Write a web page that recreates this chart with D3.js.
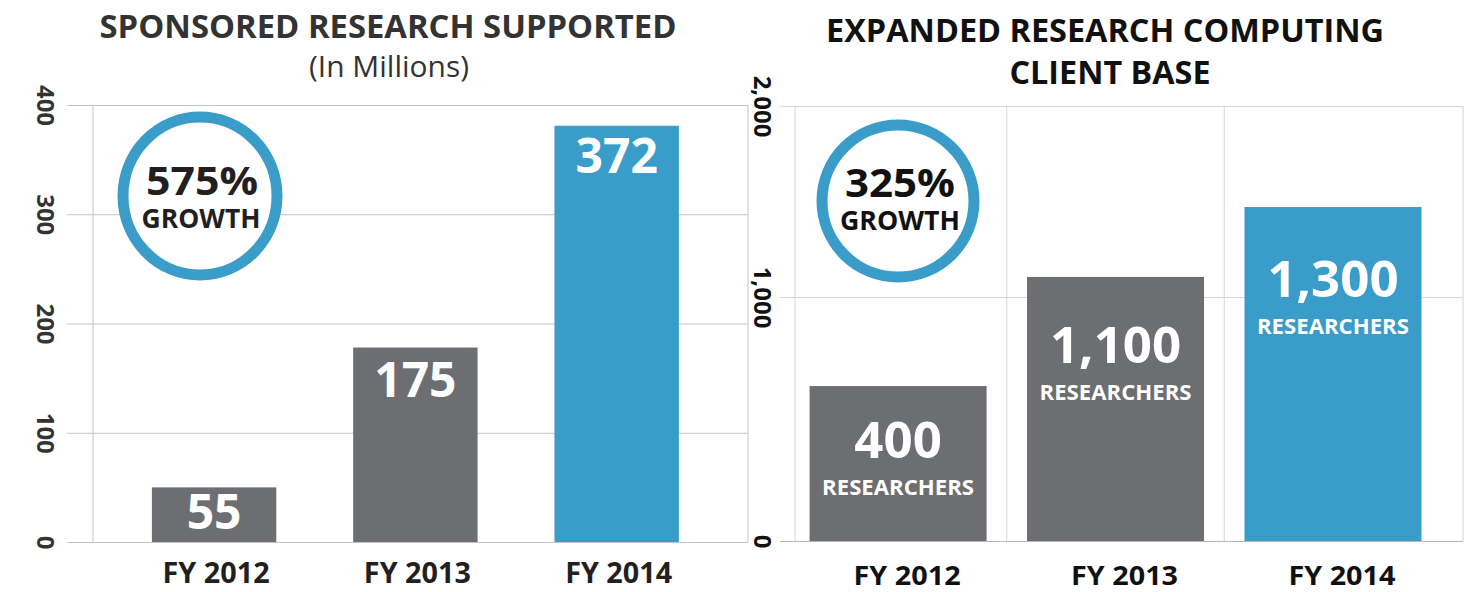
<!DOCTYPE html>
<html>
<head>
<meta charset="utf-8">
<script src="https://cdn.jsdelivr.net/npm/d3@7"></script>
<style>
  body { margin: 0; background: #fff; }
  text { font-family: "Open Sans", "Noto Sans", sans-serif; }
</style>
</head>
<body>
<div id="chart-area"></div>
<script>
// data
let years = ["FY 2012", "FY 2013", "FY 2014"];
// left chart: sponsored research ($ millions)
let fundingLabels = [55, 175, 372];
let fundingBars = [50, 178, 381];      // heights as drawn
let fundingTicks = [0, 100, 200, 300, 400];
// right chart: research computing clients
let researcherLabels = ["400", "1,100", "1,300"];
let researcherBars = [635, 1105, 1471]; // heights as drawn on the (uneven) axis
let researcherTicks = [0, 1000, 2000];

let gray = "#6d6e71";
let blue = "#3a9cc8";

let svg = d3.select("#chart-area")
    .append("svg")
    .attr("width", 1469)
    .attr("height", 592);

// stretch a text to a given width (the original face is wider than Open Sans)
function fit(sel, w){
    sel.attr("textLength", w).attr("lengthAdjust", "spacingAndGlyphs");
}

//---------------- left chart ----------------
let yL = d3.scaleLinear().domain([0, 400]).range([542, 105]);
let xL = d3.scaleBand()
    .domain(years)
    .range([93, 748])
    .paddingInner(0.382)
    .paddingOuter(0.318)
    .align(0.46);

let leftAxis = svg.append("g")
    .attr("transform", "translate(67,0)")
    .call(d3.axisLeft(yL).tickValues(fundingTicks).tickSize(-(748 - 67)));
leftAxis.select(".domain").remove();
leftAxis.selectAll("line").attr("stroke", "#c4c4c4");
leftAxis.selectAll("text")
    .attr("x", 0).attr("dy", null)
    .attr("transform", "translate(-21,0) rotate(90)")
    .attr("text-anchor", "middle")
    .attr("dominant-baseline", "central")
    .attr("font-size", "24px")
    .attr("font-weight", 700)
    .attr("fill", "#333")
    .style("font-family", "'Open Sans', sans-serif");

// frame verticals
[93, 748].forEach(function(x){
    svg.append("line")
        .attr("x1", x).attr("x2", x)
        .attr("y1", yL(400)).attr("y2", yL(0))
        .attr("stroke", "#c4c4c4");
});

svg.selectAll(".barL")
    .data(years)
    .enter()
    .append("rect")
        .attr("class", "barL")
        .attr("x", function(d){ return xL(d); })
        .attr("width", xL.bandwidth())
        .attr("y", function(d, i){ return yL(fundingBars[i]); })
        .attr("height", function(d, i){ return yL(0) - yL(fundingBars[i]); })
        .attr("fill", function(d, i){ return i == 2 ? blue : gray; });

let dyL = [42, 49, 47];
svg.selectAll(".valL")
    .data(years)
    .enter()
    .append("text")
        .attr("x", function(d){ return xL(d) + xL.bandwidth() / 2; })
        .attr("y", function(d, i){ return yL(fundingBars[i]) + dyL[i]; })
        .attr("text-anchor", "middle")
        .attr("font-size", "48px")
        .attr("font-weight", 700)
        .attr("fill", "#fff")
        .text(function(d, i){ return fundingLabels[i]; });

svg.selectAll(".catL")
    .data(years)
    .enter()
    .append("text")
        .attr("x", function(d){ return xL(d) + xL.bandwidth() / 2 + 2; })
        .attr("y", 583)
        .attr("text-anchor", "middle")
        .attr("font-size", "28px")
        .attr("font-weight", 700)
        .attr("fill", "#231f20")
        .text(function(d){ return d; })
        .call(fit, 107);

svg.append("text")
    .attr("x", 388).attr("y", 38)
    .attr("text-anchor", "middle")
    .attr("font-size", "32px")
    .attr("font-weight", 700)
    .attr("fill", "#333")
    .text("SPONSORED RESEARCH SUPPORTED")
    .call(fit, 577);
svg.append("text")
    .attr("x", 389).attr("y", 77)
    .attr("text-anchor", "middle")
    .attr("font-size", "29px")
    .attr("fill", "#333")
    .text("(In Millions)")
    .call(fit, 160);

svg.append("ellipse")
    .attr("cx", 200).attr("cy", 196)
    .attr("rx", 77).attr("ry", 79)
    .attr("fill", "#fff")
    .attr("stroke", blue)
    .attr("stroke-width", 11);
svg.append("text")
    .attr("x", 202).attr("y", 195)
    .attr("text-anchor", "middle")
    .attr("font-size", "39px").attr("font-weight", 700)
    .attr("fill", "#231f20")
    .text("575%")
    .call(fit, 112);
svg.append("text")
    .attr("x", 201).attr("y", 228)
    .attr("text-anchor", "middle")
    .attr("font-size", "26px").attr("font-weight", 700)
    .attr("fill", "#231f20")
    .text("GROWTH")
    .call(fit, 119);

//---------------- right chart ----------------
let yR = d3.scaleLinear().domain([0, 1000, 2000]).range([541, 297, 106]);
let xR = d3.scaleBand()
    .domain(years)
    .range([795, 1463])
    .paddingInner(0.186)
    .paddingOuter(0.129)
    .align(0.26);

let rightAxis = svg.append("g")
    .attr("transform", "translate(780,0)")
    .call(d3.axisLeft(yR).tickValues(researcherTicks).tickSize(-(1463 - 780))
        .tickFormat(d3.format(",")));
rightAxis.select(".domain").remove();
rightAxis.selectAll("line").attr("stroke", "#d6d6d6");
rightAxis.selectAll(".tick:first-of-type line").attr("stroke", "#b8b8b8");
rightAxis.selectAll("text")
    .attr("x", 0).attr("dy", null)
    .attr("transform", "translate(-17,0) rotate(90)")
    .attr("text-anchor", "middle")
    .attr("dominant-baseline", "central")
    .attr("font-size", "24px")
    .attr("font-weight", 700)
    .attr("fill", "#111")
    .style("font-family", "'Open Sans', sans-serif");

let step = xR.step();
let vLines = [795, xR(years[1]) - step * 0.186 / 2, xR(years[2]) - step * 0.186 / 2, 1463];
vLines.forEach(function(x){
    svg.append("line")
        .attr("x1", x).attr("x2", x)
        .attr("y1", yR(2000)).attr("y2", yR(0))
        .attr("stroke", "#d6d6d6");
});

svg.selectAll(".barR")
    .data(years)
    .enter()
    .append("rect")
        .attr("class", "barR")
        .attr("x", function(d){ return xR(d); })
        .attr("width", xR.bandwidth())
        .attr("y", function(d, i){ return yR(researcherBars[i]); })
        .attr("height", function(d, i){ return yR(0) - yR(researcherBars[i]); })
        .attr("fill", function(d, i){ return i == 2 ? blue : gray; });

let dyR = [72, 86, 90];
svg.selectAll(".valR")
    .data(years)
    .enter()
    .append("text")
        .attr("x", function(d){ return xR(d) + xR.bandwidth() / 2; })
        .attr("y", function(d, i){ return yR(researcherBars[i]) + dyR[i]; })
        .attr("text-anchor", "middle")
        .attr("font-size", "51px")
        .attr("font-weight", 700)
        .attr("fill", "#fff")
        .text(function(d, i){ return researcherLabels[i]; });

svg.selectAll(".subR")
    .data(years)
    .enter()
    .append("text")
        .attr("x", function(d){ return xR(d) + xR.bandwidth() / 2; })
        .attr("y", function(d, i){ return yR(researcherBars[i]) + dyR[i] + 37; })
        .attr("text-anchor", "middle")
        .attr("font-size", "21px")
        .attr("font-weight", 700)
        .attr("fill", "#fff")
        .text("RESEARCHERS")
        .call(fit, 152);

svg.selectAll(".catR")
    .data(years)
    .enter()
    .append("text")
        .attr("x", function(d){ return xR(d) + xR.bandwidth() / 2 + 9; })
        .attr("y", 585)
        .attr("text-anchor", "middle")
        .attr("font-size", "27px")
        .attr("font-weight", 700)
        .attr("fill", "#111")
        .text(function(d){ return d; })
        .call(fit, 107);

svg.append("text")
    .attr("x", 1105).attr("y", 42)
    .attr("text-anchor", "middle")
    .attr("font-size", "32px")
    .attr("font-weight", 700)
    .attr("fill", "#111")
    .text("EXPANDED RESEARCH COMPUTING")
    .call(fit, 558);
svg.append("text")
    .attr("x", 1110).attr("y", 84)
    .attr("text-anchor", "middle")
    .attr("font-size", "32px")
    .attr("font-weight", 700)
    .attr("fill", "#111")
    .text("CLIENT BASE")
    .call(fit, 201);

svg.append("circle")
    .attr("cx", 898).attr("cy", 201)
    .attr("r", 76)
    .attr("fill", "#fff")
    .attr("stroke", blue)
    .attr("stroke-width", 11);
svg.append("text")
    .attr("x", 900).attr("y", 197)
    .attr("text-anchor", "middle")
    .attr("font-size", "39px").attr("font-weight", 700)
    .attr("fill", "#111")
    .text("325%")
    .call(fit, 110);
svg.append("text")
    .attr("x", 900).attr("y", 230)
    .attr("text-anchor", "middle")
    .attr("font-size", "26px").attr("font-weight", 700)
    .attr("fill", "#111")
    .text("GROWTH")
    .call(fit, 120);
</script>
</body>
</html>
